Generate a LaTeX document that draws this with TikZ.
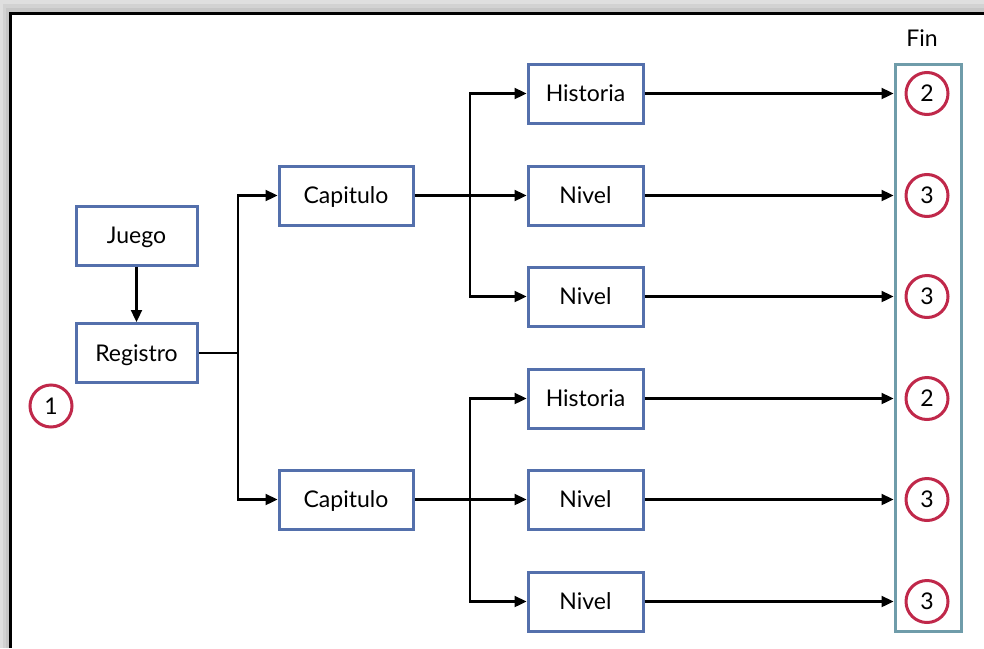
\documentclass[tikz,border=0pt]{standalone}
\usepackage{fontspec}
\setmainfont{Lato}
\usetikzlibrary{arrows.meta}
\definecolor{boxblue}{HTML}{5470AC}
\definecolor{markred}{HTML}{C0284A}
\definecolor{finteal}{HTML}{6F9CAA}
\begin{document}
\begin{tikzpicture}[x=1pt,y=-1pt,
  txt/.style={font=\fontsize{23}{27}\selectfont, text height=16.5pt, text depth=0pt},
  stepbox/.style={txt, draw=boxblue, line width=3pt, fill=white,
    minimum height=59pt, inner sep=0pt},
  numcircle/.style={txt, circle, draw=markred, line width=3pt,
    minimum size=42pt, inner sep=0pt},
  wire/.style={line width=2.3pt},
  link/.style={wire, -{Triangle[length=12pt,width=11pt]}}
]
\useasboundingbox (0,0) rectangle (984,648);
% frame with soft shadow on the upper and left sides
\fill[gray!25] (0,0) rectangle (984,13);
\fill[gray!25] (0,0) rectangle (10,648);
\fill[gray!35] (3,4) rectangle (984,13);
\fill[gray!35] (3,4) rectangle (10,648);
\fill[gray!45] (6,8) rectangle (984,13);
\fill[gray!45] (6,8) rectangle (10,648);
\fill[white] (12,15) rectangle (984,648);
\draw[line width=3pt] (10.5,648) -- (10.5,13.5) -- (984,13.5);

% boxes
\node[stepbox, minimum width=121pt] (juego) at (136.5,235.5) {Juego};
\node[stepbox, minimum width=121pt] (registro) at (136.5,353) {Registro};
\node[numcircle] (uno) at (51,406) {1};

\node[stepbox, minimum width=134pt] (cap1) at (346,195.5) {Capitulo};
\node[stepbox, minimum width=134pt] (cap2) at (346,499.5) {Capitulo};

\node[stepbox, minimum width=115pt] (hist1) at (585.5,93.5) {Historia};
\node[stepbox, minimum width=115pt] (niv1) at (585.5,195.5) {Nivel};
\node[stepbox, minimum width=115pt] (niv2) at (585.5,296.5) {Nivel};
\node[stepbox, minimum width=115pt] (hist2) at (585.5,398.5) {Historia};
\node[stepbox, minimum width=115pt] (niv3) at (585.5,499.5) {Nivel};
\node[stepbox, minimum width=115pt] (niv4) at (585.5,601.5) {Nivel};

% end column
\node[draw=finteal, line width=3pt, minimum width=66pt, minimum height=567pt,
  inner sep=0pt] (fin) at (928,347.5) {};
\node[txt] (finlabel) at (922,38) {Fin};
\node[numcircle] (f1) at (927,93.5) {2};
\node[numcircle] (f2) at (927,195.5) {3};
\node[numcircle] (f3) at (927,296.5) {3};
\node[numcircle] (f4) at (927,398.5) {2};
\node[numcircle] (f5) at (927,499.5) {3};
\node[numcircle] (f6) at (927,601.5) {3};

% connectors
\draw[link] (juego) -- (registro);
\coordinate (splitA) at (238,353);
\draw[wire] (registro.east) -- (splitA);
\draw[link] (splitA) |- (cap1.west);
\draw[link] (splitA) |- (cap2.west);

\coordinate (splitB) at (470,195.5);
\draw[link] (cap1.east) -- (niv1.west);
\draw[link] (splitB) |- (hist1.west);
\draw[link] (splitB) |- (niv2.west);

\coordinate (splitC) at (470,499.5);
\draw[link] (cap2.east) -- (niv3.west);
\draw[link] (splitC) |- (hist2.west);
\draw[link] (splitC) |- (niv4.west);

\foreach \b in {hist1,niv1,niv2,hist2,niv3,niv4}
  \draw[link] (\b.east) -- (\b.east -| fin.west);
\end{tikzpicture}
\end{document}
